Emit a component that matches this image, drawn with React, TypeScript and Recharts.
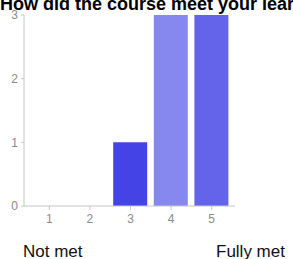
import React from 'react';
import { BarChart, Bar, XAxis, YAxis, Cell } from 'recharts';

const ratings = ['1', '2', '3', '4', '5'];
const counts = [0, 0, 1, 3, 3];
const barColors = ['#4444e6', '#4444e6', '#4444e6', '#8787f0', '#6464ea'];
const yTicks = [0, 1, 2, 3];

const data = ratings.map((r, i) => ({ rating: r, count: counts[i] }));

const tickStyle = { fill: '#8a8a8a', fontSize: 12, fontFamily: 'Liberation Sans, Arial, sans-serif' };

export default function App() {
  return (
    <div
      style={{
        position: 'fixed',
        left: 0,
        top: 0,
        width: 293,
        height: 259,
        overflow: 'hidden',
        background: '#fff',
        fontFamily: 'Liberation Sans, Arial, sans-serif',
      }}
    >
      <div
        style={{
          position: 'absolute',
          left: 0,
          top: -5,
          fontSize: 18,
          fontWeight: 'bold',
          lineHeight: '18px',
          whiteSpace: 'nowrap',
          color: '#000',
        }}
      >
        How did the course meet your learning needs?
      </div>
      <div style={{ position: 'absolute', left: 0, top: 0 }}>
        <BarChart
          width={240}
          height={226}
          data={data}
          margin={{ top: 15, right: 5, bottom: 0, left: 0 }}
        >
          <XAxis
            dataKey="rating"
            height={20}
            padding={{ left: 5, right: 3 }}
            tick={tickStyle}
            tickSize={4}
            tickMargin={4}
            stroke="#c6c6c6"
          />
          <YAxis
            width={24}
            domain={[0, 3]}
            ticks={yTicks}
            tick={tickStyle}
            tickSize={3}
            tickMargin={3}
            stroke="#c6c6c6"
            allowDecimals={false}
          />
          <Bar dataKey="count" barSize={34} isAnimationActive={false}>
            {data.map((d, i) => (
              <Cell key={`c-${d.rating}`} fill={barColors[i]} />
            ))}
          </Bar>
        </BarChart>
      </div>
      <div style={{ position: 'absolute', left: 23, top: 243, fontSize: 17, lineHeight: '17px', color: '#111', whiteSpace: 'nowrap' }}>
        Not met
      </div>
      <div style={{ position: 'absolute', left: 216, top: 243, fontSize: 17, lineHeight: '17px', color: '#111', whiteSpace: 'nowrap' }}>
        Fully met
      </div>
    </div>
  );
}
